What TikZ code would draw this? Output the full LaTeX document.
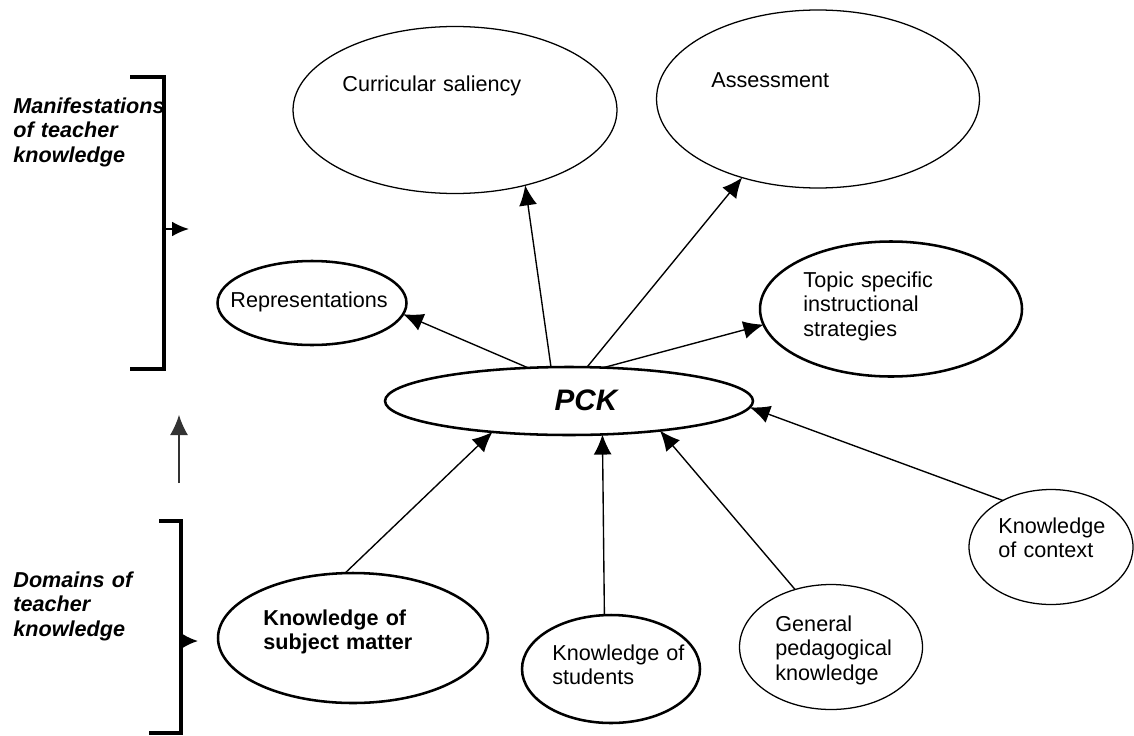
\documentclass[tikz,border=0pt]{standalone}
\usepackage{fontspec}
\setmainfont{Liberation Sans}
\usetikzlibrary{arrows.meta,shapes.geometric}

\newlength\px
\setlength\px{0.4723pt}

\begin{document}
\begin{tikzpicture}[x=0.0166cm,y=-0.0166cm,
	>={Latex[length=9.5pt,width=8.5pt]},
	bubble/.style={draw,ellipse,line width=0.6pt,inner sep=0pt,outer sep=0pt},
	fatbubble/.style={bubble,line width=1.2pt},
	txt/.style={anchor=base west,inner sep=0pt,text width=3.6cm,align=left,
		font=\fontsize{10.2}{11.6}\selectfont},
	side/.style={txt,font=\fontsize{10.2}{11.6}\selectfont\bfseries\itshape},
	link/.style={->,line width=0.65pt}]

\useasboundingbox (0,0) rectangle (1134,735);

%
% Manifestations of teacher knowledge
%
\node[bubble,minimum width=324\px,minimum height=167\px] (cur) at (455,110) {};
\node[txt] (curtxt) at (342,92) {Curricular saliency};
\node[bubble,minimum width=323\px,minimum height=178\px] (ass) at (818,99) {};
\node[txt] (asstxt) at (711,88) {Assessment};
\node[fatbubble,minimum width=189\px,minimum height=84\px] (rep) at (312,303) {};
\node[txt] (reptxt) at (230,307) {Representations};
\node[fatbubble,minimum width=262\px,minimum height=135\px] (top) at (891,309) {};
\node[txt] (toptxt) at (803,287) {Topic specific\\instructional\\strategies};

%
% PCK
%
\node[fatbubble,minimum width=368\px,minimum height=68\px] (pck) at (569,401) {};
\node[inner sep=0pt,font=\fontsize{14}{16}\selectfont\bfseries\itshape] (pcktxt) at (586,400) {PCK};

%
% Domains of teacher knowledge
%
\node[fatbubble,minimum width=270\px,minimum height=130\px] (sub) at (353,638) {};
\node[txt,font=\fontsize{10.2}{11.6}\selectfont\bfseries] (subtxt) at (263,625) {Knowledge of\\subject matter};
\node[fatbubble,minimum width=178\px,minimum height=108\px] (stu) at (611,669) {};
\node[txt] (stutxt) at (552,660) {Knowledge of\\students};
\node[bubble,minimum width=183\px,minimum height=125\px] (gen) at (831,647) {};
\node[txt] (gentxt) at (775,631) {General\\pedagogical\\knowledge};
\node[bubble,minimum width=164\px,minimum height=115\px] (con) at (1051,547) {};
\node[txt] (contxt) at (998,533) {Knowledge\\of context};

% arrows out of and into PCK
\foreach \a/\n/\b in {141/rep/-7.5,118/cur/-47,62/ass/226.5,44.5/top/187}
	\draw[link] (pck.\a) -- (\n.\b);
\foreach \n/\b/\a in {sub/97/202,stu/97/315.5,gen/122/-18,con/136/-2}
	\draw[link] (\n.\b) -- (pck.\a);

%
% brackets on the left
%
\node[side] (mantxt) at (13,113) {Manifestations\\of teacher\\knowledge};
\draw[line width=1.7pt] (130,77) -- (164,77) -- (164,369) -- (130,369);
\coordinate (manfoot) at (164,229);
\coordinate (manhead) at (189,229);
\draw[-{Latex[length=8pt,width=7pt]},line width=0.9pt] (manfoot) -- (manhead);

\node[side] (domtxt) at (13,587) {Domains of\\teacher\\knowledge};
\draw[line width=1.7pt] (159,521) -- (181,521) -- (181,733) -- (149,733);
\coordinate (domfoot) at (181,641);
\coordinate (domhead) at (198,641);
\draw[-{Latex[length=7.5pt,width=7pt]},line width=0.9pt] (domfoot) -- (domhead);

\coordinate (upfoot) at (179,483);
\coordinate (uphead) at (179,415);
\draw[->,line width=0.5pt,black!80] (upfoot) -- (uphead);

\end{tikzpicture}
\end{document}
